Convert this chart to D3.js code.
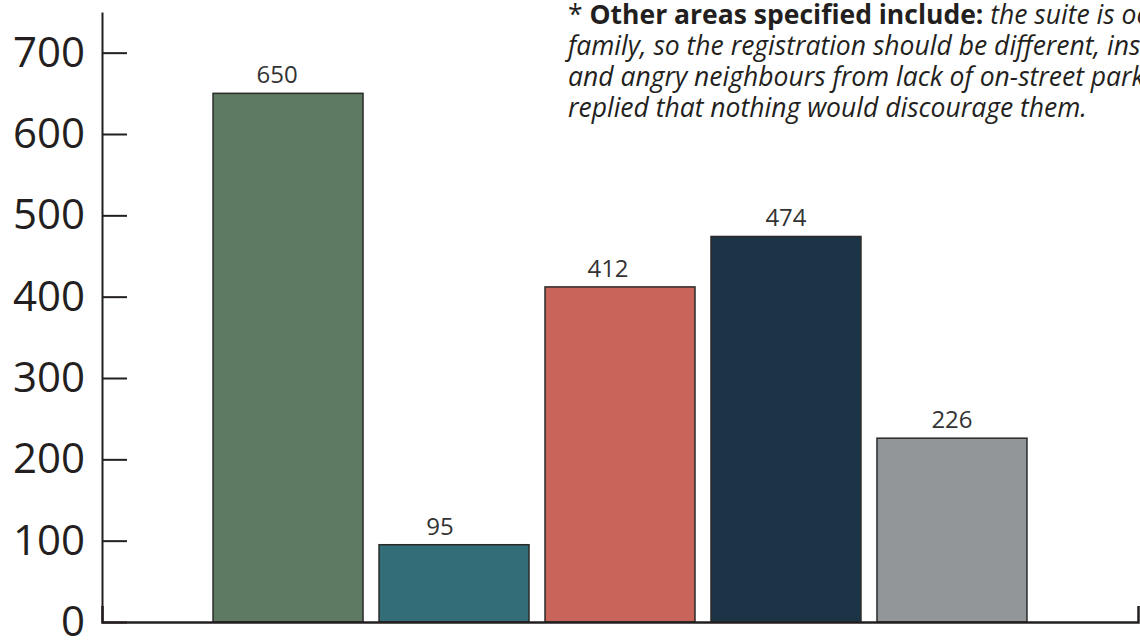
<!DOCTYPE html>
<html>
<head>
<meta charset="utf-8">
<script src="https://cdn.jsdelivr.net/npm/d3@7"></script>
<style>
  html, body { margin: 0; padding: 0; background: #ffffff; }
  svg { display: block; font-family: "Open Sans", sans-serif; }
</style>
</head>
<body>
<svg id="chart" width="1140" height="642"></svg>
<script>
// Survey responses per category
const categories = ["Parking", "Privacy", "Noise", "Safety", "Other*"];
const values = [650, 95, 412, 474, 226];
const barColors = ["#5f7a62", "#336e78", "#c9645b", "#1b3547", "#939699"];
const yTicks = [0, 100, 200, 300, 400, 500, 600, 700];
// Horizontal nudge of each value label relative to its bar centre
const labelNudge = [-11, -14, -12, 0, 0];

// Footnote lines: [text, style] runs per line
const noteLines = [
  [["* ", "normal"], ["Other areas specified include:", "bold"], [" the suite is occupied by extended", "italic"]],
  [["family, so the registration should be different, insufficient parking", "italic"]],
  [["and angry neighbours from lack of on-street parking; some respondents", "italic"]],
  [["replied that nothing would discourage them.", "italic"]]
];

const svg = d3.select("#chart");

const x = d3.scaleBand()
  .domain(categories)
  .range([102, 1138])
  .paddingInner(16 / 166)
  .paddingOuter(0.669);

const y = d3.scaleLinear()
  .domain([0, 750])
  .range([622, 12]);

// Bars
svg.append("g")
  .selectAll("rect")
  .data(values)
  .join("rect")
  .attr("x", (d, i) => x(categories[i]))
  .attr("y", d => y(d))
  .attr("width", x.bandwidth())
  .attr("height", d => y(0) - y(d))
  .attr("fill", (d, i) => barColors[i])
  .attr("stroke", "#2a2a2a")
  .attr("stroke-width", 1.5);

// Value labels above bars
svg.append("g")
  .selectAll("text")
  .data(values)
  .join("text")
  .attr("x", (d, i) => x(categories[i]) + x.bandwidth() / 2 + labelNudge[i])
  .attr("y", d => y(d) - 10)
  .attr("text-anchor", "middle")
  .attr("font-size", 24)
  .attr("fill", "#333333")
  .text(d => d);

// Y axis with ticks pointing into the plot
const yAxis = svg.append("g")
  .attr("transform", "translate(102,0)")
  .call(d3.axisLeft(y)
    .tickValues(yTicks)
    .tickSize(-25)
    .tickSizeOuter(0)
    .tickPadding(17));
yAxis.select(".domain").attr("stroke", "#231f20").attr("stroke-width", 2);
yAxis.selectAll(".tick line").attr("stroke", "#231f20").attr("stroke-width", 2);
yAxis.selectAll(".tick text")
  .attr("font-family", "Open Sans, sans-serif")
  .attr("font-size", 42)
  .attr("fill", "#231f20");

// X axis: baseline with upturned end ticks, no category labels
const xAxis = svg.append("g")
  .attr("transform", "translate(0,622)")
  .call(d3.axisBottom(x)
    .tickSizeInner(0)
    .tickSizeOuter(-16)
    .tickFormat(""));
xAxis.select(".domain").attr("stroke", "#231f20").attr("stroke-width", 2.5);
xAxis.selectAll(".tick").remove();

// Footnote
const note = svg.append("text")
  .attr("font-size", 26.5)
  .attr("fill", "#231f20");
noteLines.forEach((runs, li) => {
  runs.forEach((run, ri) => {
    const t = note.append("tspan").text(run[0]);
    if (ri === 0) t.attr("x", 568).attr("y", 24 + li * 31);
    if (run[1] === "bold") t.attr("font-weight", 700);
    if (run[1] === "italic") t.attr("font-style", "italic");
  });
});
</script>
</body>
</html>
